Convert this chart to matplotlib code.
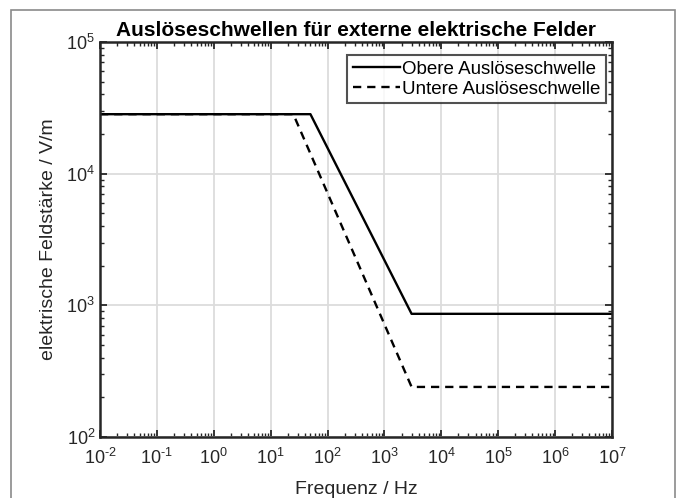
import matplotlib
matplotlib.use("Agg")
import matplotlib.pyplot as plt
import numpy as np
from matplotlib.patches import Rectangle
from matplotlib.ticker import FixedFormatter, LogLocator, NullFormatter

plt.rcParams['font.family'] = ['Liberation Sans', 'DejaVu Sans']
plt.rcParams['mathtext.fontset'] = 'custom'
plt.rcParams['mathtext.rm'] = 'Liberation Sans'
plt.rcParams['mathtext.it'] = 'Liberation Sans:italic'
plt.rcParams['mathtext.bf'] = 'Liberation Sans:bold'

# Data (frequency in Hz, field strength in V/m)
freq_upper = [1e-2, 50, 3000, 1e7]
e_upper = [2.83e4, 2.83e4, 862, 862]
freq_lower = [1e-2, 25, 3000, 1e7]
e_lower = [2.83e4, 2.83e4, 240, 240]
labels = ['Obere Auslöseschwelle', 'Untere Auslöseschwelle']
xexp = [-2, -1, 0, 1, 2, 3, 4, 5, 6, 7]
yexp = [2, 3, 4, 5]


def fmt(e):
    s = str(e).replace('-', '\u2010')
    return '$\\mathregular{10^{' + s + '}}$'


fig = plt.figure(figsize=(6.82, 4.98), dpi=100)
fig.patches.append(Rectangle((11/682, -0.05), (675-11)/682, 1.05 - 10/498,
                             transform=fig.transFigure, fill=False,
                             edgecolor='#8a8a8a', linewidth=1.2))
ax = fig.add_axes([100/682, 1-437/498, 512/682, 395/498])

ax.plot(freq_upper, e_upper, color='black', linewidth=1.7, linestyle='-', label=labels[0])
ax.plot(freq_lower, e_lower, color='black', linewidth=1.7, linestyle=(0, (3.5, 2.5)), label=labels[1])

ax.set_xscale('log')
ax.set_yscale('log')
ax.set_xlim(1e-2, 1e7)
ax.set_ylim(1e2, 1e5)
ax.set_xticks([10.0 ** e for e in xexp])
ax.set_yticks([10.0 ** e for e in yexp])
ax.xaxis.set_major_formatter(FixedFormatter([fmt(e) for e in xexp]))
ax.yaxis.set_major_formatter(FixedFormatter([fmt(e) for e in yexp]))
ax.xaxis.set_minor_locator(LogLocator(base=10, subs=np.arange(2, 10), numticks=100))
ax.yaxis.set_minor_locator(LogLocator(base=10, subs=np.arange(2, 10), numticks=100))
ax.xaxis.set_minor_formatter(NullFormatter())
ax.yaxis.set_minor_formatter(NullFormatter())

ax.grid(True, which='major', color='#dcdcdc', linewidth=1.3)
ax.set_axisbelow(True)
ax.tick_params(which='both', direction='in', top=True, right=True, colors='#262626',
               labelcolor='#262626', labelsize=13)
ax.tick_params(which='major', length=5, width=1.3)
ax.tick_params(which='minor', length=3, width=1.0)
ax.tick_params(axis='x', pad=8)
for s in ax.spines.values():
    s.set_linewidth(1.8)
    s.set_color('#262626')

ax.set_xlabel('Frequenz / Hz', fontsize=14, color='#262626', labelpad=9)
ax.set_ylabel('elektrische Feldstärke / V/m', fontsize=14, color='#262626', labelpad=7)
ax.set_title('Auslöseschwellen für externe elektrische Felder', fontsize=15,
             fontweight='bold', pad=4)

leg = ax.legend(loc='upper right', bbox_to_anchor=(0.988, 0.967), fontsize=13.5,
                frameon=True, fancybox=False,
                edgecolor='#262626', handlelength=2.5, handletextpad=0.1,
                borderpad=0.3, labelspacing=0.15, borderaxespad=0.0)
leg.get_frame().set_linewidth(1.5)

fig.savefig('out.png', dpi=100)
